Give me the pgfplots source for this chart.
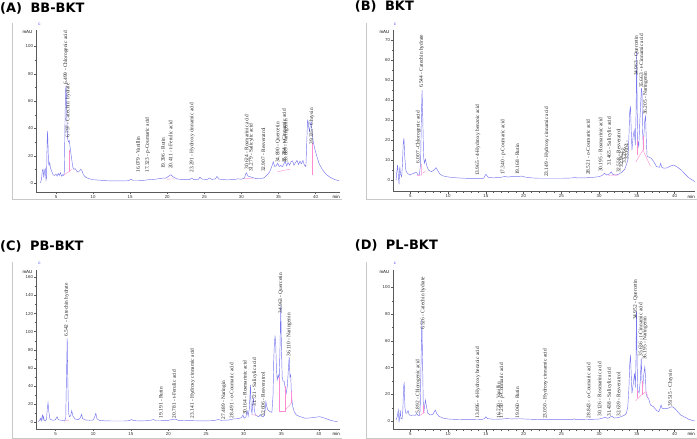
\documentclass[border=0pt]{standalone}
\usepackage{fontspec}
\setmainfont{Liberation Serif}
\newfontfamily\tickfam{Liberation Sans}
\newfontfamily\titlefam{DejaVu Sans}
\usepackage{pgfplots}
\pgfplotsset{compat=1.18}

\definecolor{tracecol}{RGB}{118,118,238}
\definecolor{integcol}{RGB}{255,140,210}
\definecolor{chan}{RGB}{70,70,255}
\definecolor{framecol}{RGB}{200,200,200}

\newcommand\tickfont{\tickfam\fontsize{4.4}{5}\selectfont}
\newcommand\pkfont{\fontsize{5.4}{6}\selectfont}
\newcommand\paneltitle[2]{{\titlefam\bfseries\fontsize{13}{15}\selectfont (#1)\hspace{8.5bp}#2}}

\tikzset{pk/.style={rotate=90, anchor=west, inner sep=0pt, font=\pkfont, text=black!85}}
\newcommand\pk[3]{\node[pk] at (axis cs:#1,#2) {#3};}

\pgfplotsset{
  chrom/.style={
    scale only axis, clip=false, anchor=south west,
    axis x line*=bottom, axis y line*=left,
    axis line style={black!65, line width=0.4bp, -},
    tick style={black!65, line width=0.3bp},
    tick align=outside,
    major tick length=2.2bp, minor tick length=1.3bp,
    xtick={5,10,...,40}, minor x tick num=4, minor y tick num=1,
    /pgf/number format/assume math mode=true,
    tick label style={font=\tickfont, text=black!80, inner sep=0.6bp},
  },
}
\tikzset{
  chromline/.style={color=tracecol, line width=0.45bp},
  integline/.style={color=integcol, line width=0.4bp},
}

\begin{document}
\begin{tikzpicture}

% ---------- panel frames ----------
\draw[framecol, line width=0.5bp] (12bp,416bp) -- (12bp,240bp) -- (342bp,240bp);
\draw[framecol, line width=0.5bp] (366bp,416bp) -- (366bp,240bp) -- (697bp,240bp);
\draw[framecol, line width=0.5bp] (12bp,177bp) -- (12bp,0.5bp) -- (342bp,0.5bp);
\draw[framecol, line width=0.5bp] (366bp,177bp) -- (366bp,0.5bp) -- (697bp,0.5bp);

% ---------- titles ----------
\node[anchor=base west, inner sep=0pt] at (0bp,426.3bp) {\paneltitle{A}{BB-BKT}};
\node[anchor=base west, inner sep=0pt] at (354.7bp,428bp) {\paneltitle{B}{BKT}};
\node[anchor=base west, inner sep=0pt] at (0bp,188.3bp) {\paneltitle{C}{PB-BKT}};
\node[anchor=base west, inner sep=0pt] at (354.7bp,189bp) {\paneltitle{D}{PL-BKT}};

% ---------- channel markers ----------
\node[font=\tickfont, text=chan, inner sep=0pt] at (39.5bp,415bp) {c};
\node[font=\tickfont, text=chan, inner sep=0pt] at (395bp,415bp) {c};
\node[font=\tickfont, text=chan, inner sep=0pt] at (39.5bp,175.7bp) {c};
\node[font=\tickfont, text=chan, inner sep=0pt] at (395bp,175.7bp) {c};

% ================= (A) BB-BKT =================
\begin{axis}[chrom, at={(36bp,247bp)}, width=304bp, height=162bp,
  xmin=2.3, xmax=43.3, ymin=-6.6, ymax=112, ytick={0,20,...,100}]
\addplot[chromline] coordinates {
(2.9,0) (3.05,3) (3.15,9) (3.25,10) (3.35,4) (3.45,9) (3.55,10.5) (3.65,2) (3.72,4)
(3.80,30) (3.86,38) (3.92,28) (3.98,15.7) (4.05,13) (4.15,15) (4.25,11) (4.4,9)
(4.6,6) (4.8,5.5) (5.0,6.5) (5.15,5) (5.3,7) (5.45,5.5) (5.6,7.5) (5.75,5) (5.9,6)
(6.05,5.5) (6.12,8) (6.2,40) (6.28,68) (6.35,71) (6.42,60) (6.5,40) (6.58,32)
(6.68,30) (6.8,31) (6.9,26) (7.0,22) (7.1,18) (7.25,12) (7.4,10) (7.6,10.5)
(7.8,8.5) (8.0,8) (8.2,9) (8.35,10) (8.5,9) (8.7,6) (9.0,4.2) (9.4,3.2) (10.0,2.4)
(11,2) (12,1.6) (13,1.5) (14,1.5) (14.8,1.7) (15.1,2.8) (15.4,1.8) (16,1.8) (17,2)
(17.5,2.4) (18.5,2.8) (19.3,3.5) (19.8,3.5) (20.2,5) (20.5,6) (20.8,4.5) (21.3,3)
(22,2.5) (23,2.4) (23.3,3.6) (23.6,2.4) (24.2,2.6) (24.4,4.2) (24.7,2.8) (25.4,2.6)
(25.7,3.6) (26.0,2.6) (26.5,3) (26.7,4.8) (27.0,2.8) (28,2.3) (29,2.5) (29.5,3)
(30,2.8) (30.4,3.5) (30.65,7.5) (30.9,5) (31.2,4.5) (31.5,4) (32,3.2) (32.5,3.3)
(33,3.6) (33.4,5.5) (33.8,8) (34.1,12) (34.3,15.5) (34.5,12) (34.7,12.5) (34.9,14.5)
(35.1,12) (35.3,13) (35.5,11.8) (35.7,13.5) (35.9,16) (36.1,12.5) (36.3,15) (36.5,13)
(36.7,15.5) (36.9,16.2) (37.1,13) (37.3,15) (37.5,16.5) (37.7,13.5) (37.9,16)
(38.1,14) (38.3,16.5) (38.5,13) (38.7,12) (38.82,30) (38.92,46) (39.0,45) (39.1,40)
(39.2,38) (39.3,43) (39.42,45) (39.55,36) (39.7,30) (39.9,25) (40.2,19) (40.5,14)
(40.9,10) (41.4,6.5) (42,4) (42.6,2.5) (43.2,1.5)
};
\addplot[integline] coordinates {(6.1,6) (6.8,8.5) (7.1,10)};
\addplot[integline] coordinates {(6.8,8.5) (6.8,24)};
\addplot[integline] coordinates {(20.0,2.8) (20.9,3)};
\addplot[integline] coordinates {(30.4,3.2) (31.6,3.6)};
\addplot[integline] coordinates {(34.8,8) (35.6,9.2) (36.6,10)};
\addplot[integline] coordinates {(39.6,6) (39.6,29)};
\node[font=\tickfont, anchor=east, inner sep=0pt] at (rel axis cs:0,1) [xshift=-3.5bp, yshift=-2.3bp] {mAU};
\node[font=\tickfont, anchor=north east, inner sep=0pt] at (rel axis cs:1,0) [yshift=-3bp] {min};
\pk{6.32}{72}{6.499 - Chlorogenic acid}
\pk{6.63}{33}{6.797 - Catechin\ \ hydrate}
\pk{16.08}{7.4}{16.079 - Vanillin}
\pk{17.34}{7.4}{17.323 - p-Coumaric acid}
\pk{19.45}{10.3}{19.396 - Rutin}
\pk{20.44}{10.3}{20.411 - t-Ferulic acid}
\pk{23.35}{7.4}{23.291 - Hydroxy cinnamic acid}
\pk{30.7}{9.6}{30.624 - Rosmarinic acid}
\pk{31.35}{8}{31.279 - Salicylic acid}
\pk{32.95}{8}{32.907 - Resveratrol}
\pk{34.95}{14.7}{34.890 - Quercetin}
\pk{35.75}{14.7}{35.784 - t-Cinnamic acid}
\pk{36.05}{14.7}{35.889 - Naringenin}
\pk{39.5}{28}{39.335 - Chrysin}
\end{axis}

% ================= (B) BKT =================
\begin{axis}[chrom, at={(393bp,247.3bp)}, width=302bp, height=161.7bp,
  xmin=2.7, xmax=42.7, ymin=-5.7, ymax=75, ytick={0,10,...,70}]
\addplot[chromline] coordinates {
(3.1,0) (3.2,4) (3.3,7.6) (3.4,3) (3.5,-2) (3.6,6.8) (3.7,3) (3.85,1.8) (3.95,8)
(4.05,18) (4.15,21) (4.25,12) (4.4,5) (4.6,3.5) (4.95,2.6) (5.2,3.2) (5.4,3.3)
(5.6,3.8) (5.84,3.8) (6.0,2.6) (6.2,2.8) (6.35,8) (6.45,30) (6.55,45) (6.65,30)
(6.75,12) (6.85,8.5) (7.0,10.5) (7.15,7.5) (7.4,5.1) (7.8,4.3) (8.1,5) (8.4,6.3)
(8.6,5) (8.9,3.1) (9.3,2.2) (9.8,1.8) (10.5,1.4) (11.6,1.1) (13,0.9) (14.7,1)
(15.0,3) (15.3,1.5) (16,1.2) (17,1.5) (17.5,1.9) (18,1.6) (18.5,2) (19.2,1.8)
(19.7,2.1) (20.2,1.6) (21,1.2) (22,1) (23,1) (24,1) (25,1) (26,1.1) (26.6,1.2)
(26.8,1.6) (27,1.2) (28,1.2) (29,1.4) (30,1.8) (30.4,2.4) (30.7,3.5) (31,2.6)
(31.4,3.2) (31.6,4.2) (31.8,3) (32.2,2.6) (32.6,3) (33,4) (33.4,5.5) (33.6,7.6)
(33.8,10) (33.95,22) (34.05,34) (34.15,37) (34.25,25) (34.35,15) (34.5,21.8)
(34.65,25) (34.8,17.6) (34.9,35) (34.97,64) (35.03,40) (35.1,20) (35.25,16.8)
(35.4,30) (35.5,38) (35.6,46) (35.68,44) (35.75,25) (35.85,17) (35.95,24) (36.05,30)
(36.15,31.8) (36.25,20) (36.35,12) (36.6,11.5) (36.9,11) (37.2,9.5) (37.6,6.8)
(38.0,6.5) (38.15,8.5) (38.3,6.5) (38.6,6) (39,6.2) (39.5,7.2) (39.9,7.6) (40.4,6.5)
(40.9,5) (41.4,3) (41.9,1.2) (42.4,0) (42.7,-0.7)
};
\addplot[integline] coordinates {(5.85,2.3) (6.45,2.6) (6.45,8)};
\addplot[integline] coordinates {(6.6,3.5) (7.0,4.5)};
\addplot[integline] coordinates {(31.2,2.5) (32.5,2.6)};
\addplot[integline] coordinates {(34.85,9) (35.3,12) (35.8,15) (36.3,11) (36.8,7)};
\addplot[integline] coordinates {(35.1,12.5) (35.1,20)};
\addplot[integline] coordinates {(35.8,15) (35.8,22)};
\node[font=\tickfont, anchor=east, inner sep=0pt] at (rel axis cs:0,1) [xshift=-3.5bp, yshift=-2.3bp] {mAU};
\node[font=\tickfont, anchor=north east, inner sep=0pt] at (rel axis cs:1,0) [yshift=-3bp] {min};
\pk{6.05}{8.5}{6.007 -Chlorogenic acid}
\pk{6.5}{46}{6.544 - Catechin hydrate}
\pk{13.95}{2.1}{13.965 - 4-Hydroxy benzoic acid}
\pk{17.27}{2.6}{17.340 - p-Coumaric acid}
\pk{19.16}{2.6}{19.168 - Rutin}
\pk{23.09}{1.6}{23.149 - Hydroxy cinnamic acid}
\pk{28.52}{2.6}{28.521 - o-Coumaric acid}
\pk{30.2}{4.1}{30.195 - Rosmarinic acid}
\pk{31.39}{7.3}{31.465 - Salicylic acid}
\pk{32.58}{3.6}{32.558 - Resveratrol}
\pk{32.95}{6.5}{32.962 -}
\pk{33.3}{8.5}{33.266 -}
\pk{33.65}{10.5}{33.604 -}
\pk{34.96}{52}{34.963 - Quercetin}
\pk{35.58}{46}{35.663 - t-Cinnamic acid}
\pk{36.15}{32.5}{36.205 - Naringenin}
\end{axis}

% ================= (C) PB-BKT =================
\begin{axis}[chrom, at={(36bp,10bp)}, width=304bp, height=159bp,
  xmin=2.4, xmax=42.8, ymin=-7.4, ymax=168, ytick={0,20,...,160}]
\addplot[chromline] coordinates {
(2.7,0.7) (2.85,2) (3.0,4.4) (3.1,1.5) (3.2,6) (3.27,8) (3.33,3) (3.4,6.2) (3.5,2)
(3.6,1.5) (3.8,3) (3.9,15) (4.0,21.6) (4.1,12) (4.25,3.6) (4.5,2.5) (4.8,2.3) (5.0,3)
(5.2,6.2) (5.35,3) (5.6,2.3) (5.9,2.2) (6.2,1.4) (6.35,5) (6.45,50) (6.55,92.7)
(6.62,50) (6.72,10) (6.85,6.2) (7.0,7) (7.15,12.8) (7.3,7) (7.6,3.6) (8.0,2.8)
(8.3,5) (8.45,8.8) (8.6,4) (9.0,2.5) (9.5,2.2) (10.0,2.5) (10.25,7) (10.35,9.9)
(10.5,4) (10.8,2.2) (11.5,1.6) (12.5,1.4) (14,1.4) (14.8,1.8) (15.1,3) (15.4,1.8)
(16.5,1.5) (17.5,2) (18.0,3) (18.3,2) (19,2) (20,2.2) (20.9,3.6) (21.3,2.2) (22,1.7)
(23,1.8) (24,1.6) (25,1.6) (26,1.8) (26.6,3) (27,2.2) (28,2.5) (28.6,3.6) (29.2,4)
(29.7,5) (29.9,8) (30.05,4.5) (30.3,6) (30.45,12.8) (30.6,7) (30.75,15) (30.9,41)
(31.0,15) (31.1,9.9) (31.2,20) (31.3,26.5) (31.4,15) (31.55,8) (31.8,7) (32.0,6)
(32.2,8.5) (32.4,6.5) (32.6,6) (32.8,9) (32.95,22.8) (33.05,18) (33.2,13.6)
(33.5,11.7) (33.75,11) (33.9,30) (34.0,70.6) (34.1,90) (34.17,94.5) (34.25,88)
(34.35,60) (34.45,46.7) (34.6,52.2) (34.72,48) (34.82,80) (34.93,129) (35.02,80)
(35.12,50) (35.25,45) (35.4,45) (35.5,38) (35.65,32) (35.8,40) (35.95,60)
(36.05,72.4) (36.15,50) (36.25,52) (36.35,30) (36.5,18) (36.7,12) (37.0,8)
(37.5,6.2) (38.2,4.4) (39.0,5) (40.1,6.2) (40.8,4.5) (41.6,2) (42.5,0.5)
};
\addplot[integline] coordinates {(6.3,1.8) (6.8,2.5)};
\addplot[integline] coordinates {(31.1,8.5) (31.8,7.5)};
\addplot[integline] coordinates {(34.7,50) (34.7,11.7) (35.46,11.7) (35.46,40)};
\addplot[integline] coordinates {(35.6,14) (36.4,22)};
\addplot[integline] coordinates {(36.3,21) (36.3,34)};
\node[font=\tickfont, anchor=east, inner sep=0pt] at (rel axis cs:0,1) [xshift=-3.5bp, yshift=-2.3bp] {mAU};
\node[font=\tickfont, anchor=north east, inner sep=0pt] at (rel axis cs:1,0) [yshift=-3bp] {min};
\pk{6.46}{94.5}{6.542 - Catechin hydrate}
\pk{19.0}{4.4}{19.191 - Rutin}
\pk{20.76}{4.4}{20.781 - t-Ferulic acid}
\pk{23.2}{4.4}{23.141 - Hydroxy cinnamic acid}
\pk{27.36}{3.3}{27.489 - Naringin}
\pk{28.38}{4.4}{28.491 - o-Coumaric acid}
\pk{30.15}{8}{30.164 - Rosmarinic acid}
\pk{31.48}{17.2}{31.721 - Salicylic acid}
\pk{32.58}{6.2}{32.606 - Resveratrol}
\pk{34.93}{120}{34.963 - Quercetin}
\pk{36.03}{72.4}{36.110 - Naringenin}
\end{axis}

% ================= (D) PL-BKT =================
\begin{axis}[chrom, at={(393bp,9.7bp)}, width=302bp, height=159.3bp,
  xmin=2.7, xmax=42.7, ymin=-6.2, ymax=113, ytick={0,20,...,100}]
\addplot[chromline] coordinates {
(3.1,0.7) (3.25,3) (3.4,8.2) (3.5,-1) (3.6,4) (3.65,8.2) (3.75,2) (3.9,1.5) (4.0,8)
(4.1,25) (4.18,29) (4.28,10) (4.4,5.7) (4.55,6) (4.7,7.7) (4.85,4.5) (5.1,4.2)
(5.4,4.5) (5.65,4.2) (5.85,5.7) (6.0,4.2) (6.2,4) (6.3,8) (6.42,45) (6.52,75.5)
(6.6,50) (6.7,15) (6.8,7) (6.9,12) (7.0,15.7) (7.1,12) (7.3,6) (7.6,4.5) (8.0,5)
(8.3,8.2) (8.5,5.5) (8.8,3.5) (9.3,2.2) (10,1.5) (11,1.2) (12.5,1) (14.5,1.2)
(14.8,1.8) (15.0,3.2) (15.2,1.8) (16,1.3) (17,1.4) (17.7,1.8) (18.5,1.6) (19.5,1.7)
(20.5,1.4) (22,1.1) (24,1) (25.5,1) (26.5,1.1) (26.7,1.6) (26.9,1.1) (28,1.1)
(29,1.2) (30,1.5) (30.5,2.2) (30.8,3) (31.1,2) (31.5,3) (31.7,3.5) (32,2.2)
(32.6,2.6) (33,3.5) (33.4,4.5) (33.6,5.7) (33.8,10.7) (33.95,25) (34.05,42)
(34.15,49.4) (34.25,35) (34.35,20.7) (34.5,27) (34.7,35.7) (34.8,25) (34.88,45)
(34.95,83) (35.02,50) (35.1,23) (35.3,21) (35.45,30) (35.58,46.9) (35.68,30)
(35.78,25.7) (35.92,35) (36.05,40.6) (36.12,35) (36.22,20.7) (36.35,18) (36.5,17)
(36.6,16) (36.8,12) (37.2,10.7) (37.6,8) (37.9,7) (38.05,9) (38.2,12) (38.35,9.5)
(38.7,9.5) (39.1,9.5) (39.5,10.5) (39.7,10.7) (40.0,9.5) (40.4,7) (40.8,4.5)
(41.3,3) (41.8,1.5) (42.4,0.3) (42.7,0)
};
\addplot[integline] coordinates {(6.2,4) (6.9,6.5)};
\addplot[integline] coordinates {(6.75,6.3) (6.75,12)};
\addplot[integline] coordinates {(34.8,15) (35.5,19) (36.2,22) (36.5,17)};
\addplot[integline] coordinates {(35.1,17) (35.1,23)};
\addplot[integline] coordinates {(35.7,19.5) (35.7,30)};
\node[font=\tickfont, anchor=east, inner sep=0pt] at (rel axis cs:0,1) [xshift=-3.5bp, yshift=-2.3bp] {mAU};
\node[font=\tickfont, anchor=north east, inner sep=0pt] at (rel axis cs:1,0) [yshift=-3bp] {min};
\pk{6.01}{5.8}{5.892 - Chlorogenic acid}
\pk{6.67}{68}{6.526 - Catechin hydrate}
\pk{13.95}{2}{13.896 - 4-Hydroxy benzoic acid}
\pk{16.69}{2}{16.720 - Vanillin}
\pk{17.13}{2}{17.250 - p-Coumaric acid}
\pk{19.16}{2}{19.060 - Rutin}
\pk{22.87}{1.5}{23.050 - Hydroxy cinnamic acid}
\pk{28.6}{2}{28.843 - o-Coumaric acid}
\pk{30.07}{3.2}{30.126 - Rosmarinic acid}
\pk{31.39}{3.2}{31.438 - Salicylic acid}
\pk{32.58}{3.2}{32.639 - Resveratrol}
\pk{34.83}{75.5}{34.952 - Quercetin}
\pk{35.5}{48}{35.636 - t-Cinnamic acid}
\pk{36.1}{45.6}{36.195 - Naringenin}
\pk{39.47}{10.7}{39.515 - Chrysin}
\end{axis}

\pgfresetboundingbox
\path[use as bounding box] (0bp,0bp) rectangle (697bp,439bp);
\end{tikzpicture}
\end{document}
